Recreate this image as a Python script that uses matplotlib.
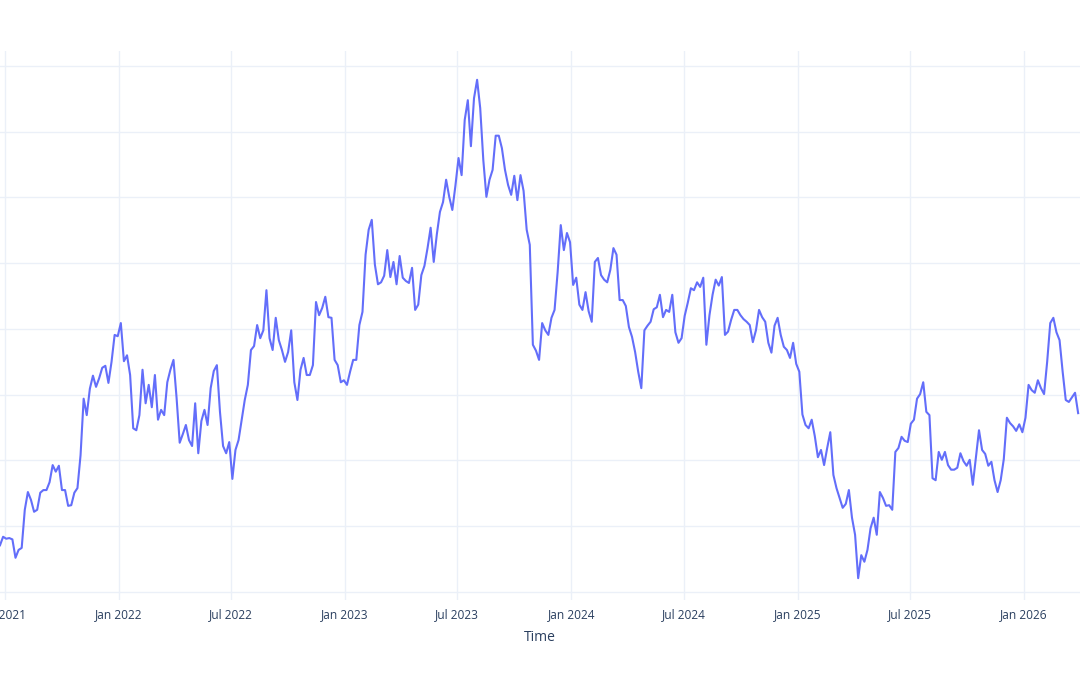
import matplotlib
matplotlib.use("Agg")
import matplotlib.pyplot as plt
import matplotlib.dates as mdates
import pandas as pd

plt.rcParams["font.family"] = ["Open Sans", "DejaVu Sans"]

start_date = "2021-06-23"
step = "5D"
values = [
    17.1, 18.4, 18.1, 18.2, 18.0, 15.2, 16.4, 16.7, 22.5, 25.2,
    24.0, 22.2, 22.5, 25.1, 25.5, 25.5, 26.7, 29.3, 28.3, 29.2,
    25.5, 25.5, 23.1, 23.2, 25.1, 25.8, 30.8, 39.4, 36.9, 40.9,
    42.9, 41.2, 42.5, 44.1, 44.4, 41.8, 45.0, 49.1, 48.9, 50.9,
    45.1, 46.0, 43.0, 34.9, 34.6, 36.9, 43.8, 38.7, 41.5, 38.1,
    43.0, 36.2, 37.7, 36.9, 41.9, 43.8, 45.3, 39.5, 32.7, 34.0,
    35.4, 33.1, 32.2, 38.7, 31.1, 36.0, 37.7, 35.4, 41.0, 43.6,
    44.5, 37.4, 32.2, 31.1, 32.8, 27.2, 31.6, 33.1, 36.2, 39.2,
    41.5, 46.8, 47.4, 50.6, 48.6, 49.8, 55.9, 48.6, 46.8, 51.7,
    48.3, 46.8, 45.0, 46.5, 49.8, 41.9, 39.2, 43.8, 45.6, 43.0,
    43.0, 44.5, 54.1, 52.1, 53.2, 54.9, 51.8, 51.7, 45.3, 44.5,
    41.9, 42.2, 41.5, 43.5, 45.3, 45.3, 50.6, 52.6, 61.3, 65.1,
    66.6, 59.8, 56.8, 57.1, 58.1, 62.0, 57.9, 60.2, 56.8, 61.1,
    57.8, 57.3, 57.0, 59.3, 52.9, 53.7, 58.2, 59.6, 62.3, 65.4,
    60.2, 64.4, 67.8, 69.3, 72.7, 70.1, 68.1, 71.8, 76.0, 73.4,
    81.8, 84.8, 77.8, 85.1, 87.9, 83.6, 75.7, 70.1, 72.7, 74.2,
    79.4, 79.4, 77.5, 74.2, 71.9, 70.4, 73.3, 69.6, 73.4, 71.0,
    65.1, 62.8, 47.6, 46.7, 45.3, 50.9, 49.8, 49.1, 51.7, 52.9,
    58.7, 65.8, 62.0, 64.6, 63.2, 56.7, 57.8, 53.7, 52.9, 55.6,
    52.7, 51.1, 60.2, 60.8, 58.2, 57.5, 57.1, 59.0, 62.3, 61.3,
    54.4, 54.4, 53.5, 50.3, 48.8, 46.5, 43.5, 41.0, 49.8, 50.5,
    51.1, 53.0, 53.3, 55.2, 51.8, 52.9, 52.6, 55.2, 49.5, 47.9,
    48.6, 52.0, 54.0, 56.2, 55.9, 57.1, 56.4, 57.8, 47.6, 52.1,
    55.2, 57.5, 56.6, 57.9, 49.1, 49.6, 51.4, 52.9, 52.9, 52.1,
    51.5, 51.1, 50.6, 48.0, 49.8, 52.9, 51.8, 51.1, 47.9, 46.4,
    50.5, 51.7, 49.1, 47.3, 46.8, 45.6, 47.9, 44.7, 43.5, 37.0,
    35.4, 34.9, 36.2, 33.7, 30.5, 31.6, 29.3, 31.9, 34.3, 27.8,
    25.8, 24.3, 22.8, 23.4, 25.5, 21.3, 18.7, 12.1, 15.6, 14.6,
    16.4, 19.7, 21.3, 18.7, 25.2, 24.3, 23.1, 23.2, 22.5, 31.3,
    31.9, 33.6, 33.0, 32.8, 35.6, 36.2, 39.4, 40.1, 41.9, 37.4,
    36.9, 27.3, 27.0, 31.3, 30.1, 31.3, 29.3, 28.6, 28.6, 28.9,
    31.1, 29.9, 29.2, 30.1, 26.3, 30.5, 34.6, 31.6, 31.0, 29.2,
    29.8, 27.0, 25.2, 27.0, 30.2, 36.5, 35.7, 35.2, 34.5, 35.5,
    34.3, 36.5, 41.5, 40.7, 40.3, 42.2, 41.0, 40.1, 45.0, 50.9,
    51.7, 49.5, 48.3, 43.5, 39.2, 38.9, 39.6, 40.3, 37.2,
]
dates = pd.date_range(start_date, periods=len(values), freq=step)

x_ticks = pd.date_range("2021-07-01", "2026-01-01", freq="6MS")
y_ticks = [10, 20, 30, 40, 50, 60, 70, 80, 90]
x_title = "Time"

W, H = 1080, 675
fig = plt.figure(figsize=(W / 100, H / 100), dpi=100)
fig.patch.set_facecolor("white")
ax_top, ax_bot = 51, 600
ax = fig.add_axes([0, 1 - ax_bot / H, 1, (ax_bot - ax_top) / H])
ax.set_facecolor("white")

ax.plot(dates, values, color="#636efa", lw=1.5, solid_joinstyle="round")

ax.set_xlim(pd.Timestamp("2021-06-23"), pd.Timestamp("2026-04-01"))
ax.set_ylim(8.78, 10 + (592 - ax_top) * 0.15209)
ax.set_xticks(x_ticks)
ax.xaxis.set_major_formatter(mdates.DateFormatter("%b %Y"))
ax.set_yticks(y_ticks)
ax.set_yticklabels([])
ax.grid(True, color="#ebf0f8", lw=1)
ax.set_axisbelow(True)
for s in ax.spines.values():
    s.set_visible(False)
ax.tick_params(axis="both", length=0)
ax.tick_params(axis="x", labelsize=8.6, labelcolor="#2a3f5f", pad=6)
ax.set_xlabel(x_title, fontsize=10, color="#2a3f5f", labelpad=6)

fig.savefig("out.png", dpi=100, facecolor="white")
